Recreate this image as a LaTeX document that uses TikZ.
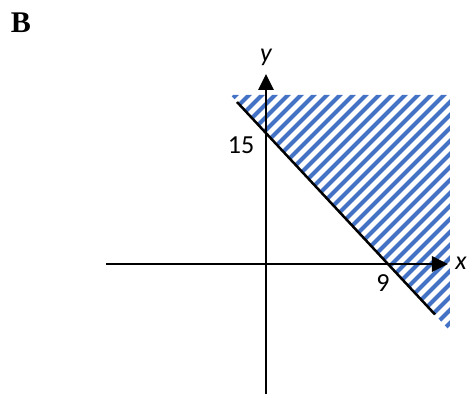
\documentclass[tikz,border=0pt]{standalone}
\usepackage{fontspec}
\setmainfont{Carlito}
\newfontfamily\tagfont{Liberation Serif}
\usetikzlibrary{arrows.meta}
\definecolor{hatchblue}{RGB}{68,114,196}
\definecolor{axisblack}{RGB}{0,0,0}

\begin{document}
\begin{tikzpicture}[x=1pt,y=1pt,
    axisline/.style={axisblack,line width=2.8pt,-{Triangle[length=16pt,width=15pt]}},
    lbl/.style={inner sep=0pt,font=\fontsize{26}{30}\selectfont}]
        \useasboundingbox (-266,-130) rectangle (201,264);
        % shaded region x/9 + y/15 >= 1
        \begin{scope}
          \clip (-35.4,169) -- (184,169) -- (184,-67) -- cycle;
          \foreach \i in {-292,-279,...,190}{
            \draw[hatchblue,line width=4.2pt] (\i,-80) -- ++(260,260);}
        \end{scope}
        \coordinate (xl) at (-160,0); \coordinate (xr) at (182,0);
        \coordinate (yb) at (0,-130); \coordinate (yt) at (0,190);
        \draw[axisline] (xl) -- (xr); \draw[axisline] (yb) -- (yt);
        \coordinate (la) at (-29,162); \coordinate (lb) at (169,-50.5);
        \draw[axisblack,line width=2.5pt] (la) -- (lb);
        \node[lbl] (xlab) at (195,1) {\itshape x};
        \node[lbl] (ylab) at (0,207) {\itshape y};
        \node[lbl] (yint) at (-25,119) {15};
        \node[lbl] (xint) at (117,-19) {9};
        \node[inner sep=0pt,font=\fontsize{30}{32}\selectfont] (btag) at (-245,241) {\tagfont\bfseries B};
      \end{tikzpicture}
\end{document}
